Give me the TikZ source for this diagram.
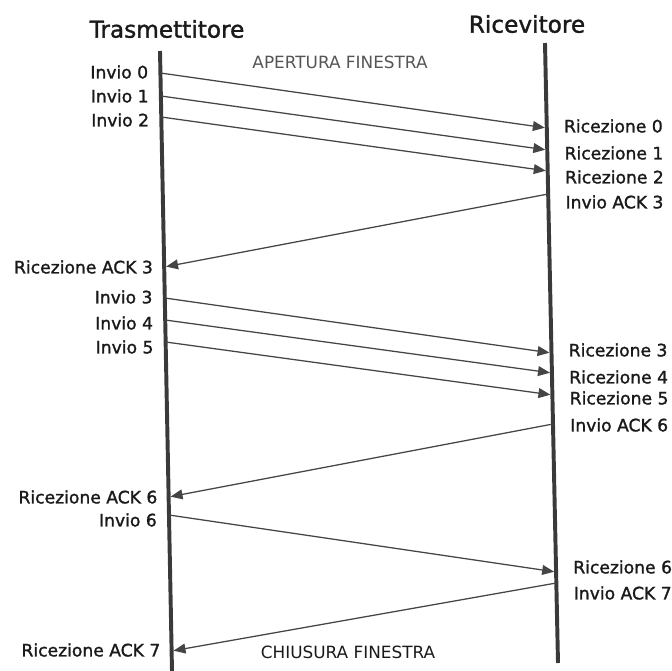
\documentclass[tikz,border=0pt]{standalone}
\usepackage{fontspec}
\setmainfont{DejaVu Sans}[FakeBold=1.4]
\newfontfamily\phasefont{DejaVu Sans}
\usepackage{xcolor}
\usetikzlibrary{arrows.meta,positioning,calc}
\definecolor{cInk}{HTML}{1A1A1A}
\definecolor{cLine}{HTML}{3A3A3A}
\definecolor{cArrow}{HTML}{454545}
\definecolor{cGray}{HTML}{555555}
\tikzset{
  ttl/.style={font=\fontsize{16.5}{19}\selectfont,text=cInk,inner sep=0pt},
  lbl/.style={font=\fontsize{12.2}{14}\selectfont,text=cInk,inner sep=0pt},
  phase/.style={font=\phasefont\fontsize{12}{14}\selectfont,text=cGray,inner sep=0pt},
  life/.style={line width=2.8pt,color=cLine},
  msg/.style={-{Triangle[length=8.5pt,width=7pt]},line width=0.9pt,color=cArrow,shorten >=1.4pt},
}
\begin{document}
\begin{tikzpicture}[x=0.025cm,y=-0.025cm]
  \useasboundingbox (0,0) rectangle (672,671);
  % lifelines
  \coordinate (Lt) at (160,51); \coordinate (Lb) at (172,671);
  \coordinate (Rt) at (545,43); \coordinate (Rb) at (558,663);
  \draw[life] (Lt) -- (Lb);
  \draw[life] (Rt) -- (Rb);
  \node[ttl] (tx) at (167,29) {Trasmettitore};
  \node[ttl] (rx) at (527,24) {Ricevitore};
  \node[phase] (open) at (340,62) {APERTURA FINESTRA};
  \node[phase,text=cInk] (close) at (348,652) {CHIUSURA FINESTRA};
  % frames: start y / label y / tip y / label y
  \foreach \i/\ys/\yl/\yr/\yq in {0/73/72/128/126,1/96/96/150/153,2/117/120/171/177,
      3/298/297/353/350,4/320/323/373/377,5/342/347/395/398,6/515/520/572/567}{
    \pgfmathsetmacro\ta{(\ys-51)/620}
    \pgfmathsetmacro\tb{(\yl-51)/620}
    \pgfmathsetmacro\tc{(\yr-43)/620}
    \pgfmathsetmacro\td{(\yq-43)/620}
    \coordinate (s\i) at ($(Lt)!\ta!(Lb)$);
    \coordinate (ls\i) at ($(Lt)!\tb!(Lb)$);
    \coordinate (r\i) at ($(Rt)!\tc!(Rb)$);
    \coordinate (lr\i) at ($(Rt)!\td!(Rb)$);
    \draw[msg] (s\i) -- (r\i);
    \node[lbl,left=12 of ls\i] (inv\i) {Invio \i};
    \node[lbl,right=17 of lr\i] (ric\i) {Ricezione \i};}
  % acks: start y / label y / tip y / label y
  \foreach \k/\ys/\yl/\yr/\yq in {3/194/202/267/267,6/424/425/497/497,7/583/593/651/650}{
    \pgfmathsetmacro\ta{(\ys-43)/620}
    \pgfmathsetmacro\tb{(\yl-43)/620}
    \pgfmathsetmacro\tc{(\yr-51)/620}
    \pgfmathsetmacro\td{(\yq-51)/620}
    \coordinate (as\k) at ($(Rt)!\ta!(Rb)$);
    \coordinate (las\k) at ($(Rt)!\tb!(Rb)$);
    \coordinate (ar\k) at ($(Lt)!\tc!(Lb)$);
    \coordinate (lar\k) at ($(Lt)!\td!(Lb)$);
    \draw[msg] (as\k) -- (ar\k);
    \node[lbl,right=17 of las\k] (iack\k) {Invio ACK \k};
    \node[lbl,left=11 of lar\k] (rack\k) {Ricezione ACK \k};}
\end{tikzpicture}
\end{document}
